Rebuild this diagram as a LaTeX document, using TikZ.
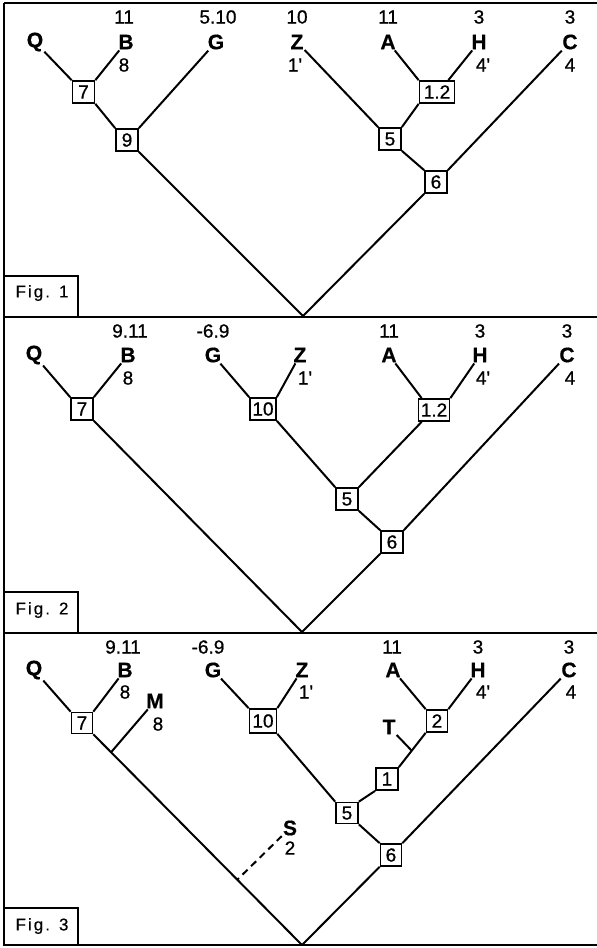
\documentclass[tikz,border=0pt]{standalone}
\usepackage{fontspec}
\setmainfont{Liberation Sans}
\newfontfamily\taxfont[FakeBold=0.6]{Liberation Sans Bold}
\newfontfamily\numfont[FakeBold=0.8]{Liberation Sans}
\newfontfamily\figfont[FakeBold=0.5,LetterSpace=12]{Liberation Sans}
\usetikzlibrary{calc}
\begin{document}
\begin{tikzpicture}[x=1pt,y=-1pt,
  taxon/.style={font=\taxfont\fontsize{21}{21}\selectfont, inner sep=1pt},
  num/.style={font=\numfont\fontsize{19}{19}\selectfont, inner sep=1pt},
  box/.style={draw, line width=1.7pt, font=\numfont\fontsize{19}{19}\selectfont, minimum width=22pt, minimum height=22pt, inner sep=0.5pt},
  branch/.style={line width=2pt},
  frame/.style={line width=2.2pt},
  figlab/.style={font=\figfont\fontsize{17}{17}\selectfont, inner sep=0pt}]
\useasboundingbox (0,0) rectangle (597,948);
% ---------- frame ----------
\draw[frame] (4,3) -- (597,3);
\draw[frame] (4,317) -- (597,317);
\draw[frame] (4,633) -- (597,633);
\draw[frame] (4,945) -- (597,945);
\draw[frame] (4,3) -- (4,945);
\draw[frame] (4,276) rectangle (78,317);
\draw[frame] (4,592) rectangle (78,633);
\draw[frame] (4,908) rectangle (78,945);
\node[figlab] (f1) at (42,293) {Fig. 1};
\node[figlab] (f2) at (42,610) {Fig. 2};
\node[figlab] (f3) at (42,926) {Fig. 3};

% ---------- Fig. 1 ----------
\node[taxon] (q1) at (35,42) {Q};
\node[taxon] (b1) at (126,42) {B};
\node[taxon] (g1) at (216,42) {G};
\node[taxon] (z1) at (297,42) {Z};
\node[taxon] (a1) at (388,42) {A};
\node[taxon] (h1) at (479,42) {H};
\node[taxon] (c1) at (570,42) {C};
\node[num] (b1u) at (124,17) {11};
\node[num] (g1u) at (218,17) {5.10};
\node[num] (z1u) at (297,17) {10};
\node[num] (a1u) at (388,17) {11};
\node[num] (h1u) at (479,17) {3};
\node[num] (c1u) at (570,17) {3};
\node[num] (b1d) at (124,65) {8};
\node[num] (z1d) at (295,65) {1'};
\node[num] (h1d) at (483,65) {4'};
\node[num] (c1d) at (570,65) {4};
\node[box] (n7a) at (83.5,92) {7};
\node[box] (n9a) at (127,140) {9};
\node[box, minimum width=35pt] (n12a) at (437,92) {1.2};
\node[box] (n5a) at (390,139) {5};
\node[box] (n6a) at (436,182) {6};
\coordinate (r1) at (303,316);
\draw[branch] (q1) -- (n7a.north west);
\draw[branch] (b1) -- (n7a.north east);
\draw[branch] (n7a.south east) -- (n9a.north west);
\draw[branch] (g1) -- (n9a.north east);
\draw[branch] (n9a.south east) -- (r1);
\draw[branch] (z1) -- (n5a.north west);
\draw[branch] (a1) -- (n12a.north west);
\draw[branch] (h1) -- ([xshift=-7pt]n12a.north east);
\draw[branch] (n12a.south west) -- (n5a.north east);
\draw[branch] (n5a.south east) -- (n6a.north west);
\draw[branch] (c1) -- (n6a.north east);
\draw[branch] (n6a.south west) -- (r1);

% ---------- Fig. 2 ----------
\node[taxon] (q2) at (34,355) {Q};
\node[taxon] (b2) at (128,355) {B};
\node[taxon] (g2) at (213,355) {G};
\node[taxon] (z2) at (300,355) {Z};
\node[taxon] (a2) at (389,355) {A};
\node[taxon] (h2) at (480,355) {H};
\node[taxon] (c2) at (567,355) {C};
\node[num] (b2u) at (130,331) {9.11};
\node[num] (g2u) at (213,331) {-6.9};
\node[num] (a2u) at (389,331) {11};
\node[num] (h2u) at (480,331) {3};
\node[num] (c2u) at (567,331) {3};
\node[num] (b2d) at (128,378) {8};
\node[num] (z2d) at (305,378) {1'};
\node[num] (h2d) at (483,378) {4'};
\node[num] (c2d) at (570,378) {4};
\node[box] (n7b) at (82,409) {7};
\node[box, minimum width=26pt] (n10b) at (263,409) {10};
\node[box, minimum width=31pt] (n12b) at (434,410) {1.2};
\node[box] (n5b) at (347,499) {5};
\node[box] (n6b) at (392,542) {6};
\coordinate (r2) at (302,632);
\draw[branch] (q2) -- (n7b.north west);
\draw[branch] (b2) -- (n7b.north east);
\draw[branch] (n7b.south east) -- (r2);
\draw[branch] (g2) -- (n10b.north west);
\draw[branch] (z2) -- (n10b.north east);
\draw[branch] (n10b.south east) -- (n5b.north west);
\draw[branch] (a2) -- ([xshift=4pt]n12b.north west);
\draw[branch] (h2) -- (n12b.north east);
\draw[branch] ([xshift=4pt]n12b.south west) -- (n5b.north east);
\draw[branch] (n5b.south east) -- (n6b.north west);
\draw[branch] (c2) -- (n6b.north east);
\draw[branch] (n6b.south west) -- (r2);

% ---------- Fig. 3 ----------
\node[taxon] (q3) at (34,670) {Q};
\node[taxon] (b3) at (125,670) {B};
\node[taxon] (g3) at (213,670) {G};
\node[taxon] (z3) at (302,670) {Z};
\node[taxon] (a3) at (393,670) {A};
\node[taxon] (h3) at (478,670) {H};
\node[taxon] (c3) at (569,670) {C};
\node[taxon] (m3) at (155,701) {M};
\node[taxon] (t3) at (389,727) {T};
\node[taxon] (s3) at (290,828) {S};
\node[num] (b3u) at (123,647) {9.11};
\node[num] (g3u) at (208,647) {-6.9};
\node[num] (a3u) at (392,647) {11};
\node[num] (h3u) at (478,647) {3};
\node[num] (c3u) at (569,647) {3};
\node[num] (b3d) at (125,692) {8};
\node[num] (z3d) at (306,692) {1'};
\node[num] (h3d) at (483,692) {4'};
\node[num] (c3d) at (571,692) {4};
\node[num] (m3d) at (158,724) {8};
\node[num] (s3d) at (290,848) {2};
\node[box, minimum width=21pt, minimum height=21pt] (n7c) at (82,723) {7};
\node[box, minimum width=27pt, minimum height=24pt] (n10c) at (263,721) {10};
\node[box, minimum width=21pt] (n2c) at (437,721) {2};
\node[box] (n1c) at (387,779) {1};
\node[box, minimum height=21pt] (n5c) at (347,813) {5};
\node[box, minimum width=21pt] (n6c) at (391,855) {6};
\coordinate (r3) at (302,945);
\coordinate (mj) at ($(n7c.south east)!0.085!(r3)$);
\coordinate (sj) at ($(n7c.south east)!0.69!(r3)$);
\coordinate (tj) at ($(n2c.south west)!0.52!(n1c.north east)$);
\draw[branch] (q3) -- (n7c.north west);
\draw[branch] (b3) -- (n7c.north east);
\draw[branch] (n7c.south east) -- (r3);
\draw[branch] (m3) -- (mj);
\draw[branch, dash pattern=on 7pt off 5pt] (s3) -- (sj);
\draw[branch] (g3) -- (n10c.north west);
\draw[branch] (z3) -- (n10c.north east);
\draw[branch] (n10c.south east) -- (n5c.north west);
\draw[branch] (a3) -- (n2c.north west);
\draw[branch] (h3) -- (n2c.north east);
\draw[branch] (n2c.south west) -- (n1c.north east);
\draw[branch] (t3) -- (tj);
\draw[branch] (n1c.south west) -- (n5c.north east);
\draw[branch] (n5c.south east) -- (n6c.north west);
\draw[branch] (c3) -- (n6c.north east);
\draw[branch] (n6c.south west) -- (r3);
\end{tikzpicture}
\end{document}
